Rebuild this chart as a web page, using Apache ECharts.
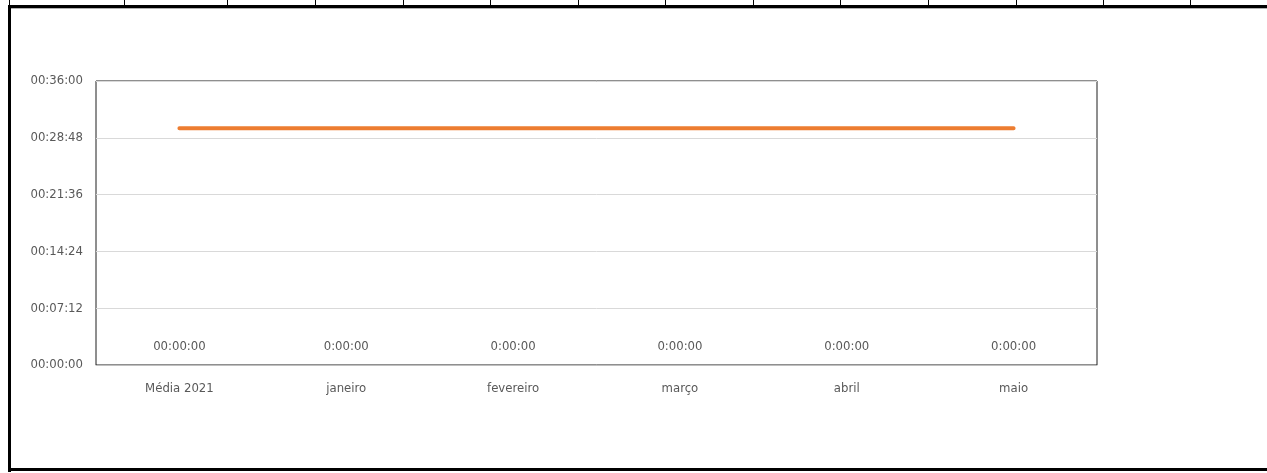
<!DOCTYPE html>
<html>
<head>
<meta charset="utf-8">
<style>
  html, body { margin: 0; padding: 0; background: #fff; }
  #chart { width: 1267px; height: 473px; }
</style>
<script src="https://cdn.jsdelivr.net/npm/echarts@6/dist/echarts.min.js"></script>
</head>
<body>
<div id="chart"></div>
<script>
// Categories on the horizontal axis
const categories = ['Média 2021', 'janeiro', 'fevereiro', 'março', 'abril', 'maio'];
// Target line, in seconds (00:30:00)
const targetSeconds = [1800, 1800, 1800, 1800, 1800, 1800];
// Monthly averages, in seconds
const averageSeconds = [0, 0, 0, 0, 0, 0];
// Text shown above each average point
const averageLabels = ['00:00:00', '0:00:00', '0:00:00', '0:00:00', '0:00:00', '0:00:00'];
// Value axis range and step, in seconds
const yMin = 0;
const yMax = 2160;
const yStep = 432;
// Column edges of the surrounding sheet cells
const cellEdges = [9, 124, 227, 315, 403, 490, 578, 665, 753, 840, 928, 1016, 1103, 1190];

const FONT = '"DejaVu Sans Condensed", "Liberation Sans Narrow", "Liberation Sans", sans-serif';
const TEXT = '#595959';

function hms(sec) {
  const h = Math.floor(sec / 3600);
  const m = Math.floor((sec % 3600) / 60);
  const s = Math.round(sec % 60);
  const p = n => String(n).padStart(2, '0');
  return p(h) + ':' + p(m) + ':' + p(s);
}

// Sheet frame around the chart object
const frame = [];
cellEdges.forEach(x => frame.push({
  type: 'rect', shape: { x: x, y: 0, width: 1, height: 6 },
  style: { fill: '#000' }, silent: true
}));
frame.push({ type: 'rect', shape: { x: 8, y: 5, width: 1259, height: 3 }, style: { fill: '#000' }, silent: true });
frame.push({ type: 'rect', shape: { x: 11, y: 8, width: 1256, height: 1 }, style: { fill: '#b0b0b0' }, silent: true });
frame.push({ type: 'rect', shape: { x: 8, y: 5, width: 3, height: 467 }, style: { fill: '#000' }, silent: true });
frame.push({ type: 'rect', shape: { x: 8, y: 468, width: 1259, height: 3 }, style: { fill: '#000' }, silent: true });

const chart = echarts.init(document.getElementById('chart'), null, { renderer: 'canvas' });
chart.setOption({
  backgroundColor: '#fff',
  animation: false,
  graphic: { elements: frame },
  grid: {
    left: 96, right: 170, top: 81, bottom: 108,
    show: true, borderColor: '#1e1e1e', borderWidth: 1, backgroundColor: 'transparent'
  },
  xAxis: {
    type: 'category',
    data: categories,
    boundaryGap: true,
    axisLine: { show: true, lineStyle: { color: '#bfbfbf', width: 1 } },
    axisTick: { show: false },
    axisLabel: { color: TEXT, fontFamily: FONT, fontSize: 13, margin: 17 },
    splitLine: { show: false }
  },
  yAxis: {
    type: 'value',
    min: yMin, max: yMax, interval: yStep,
    axisLine: { show: false },
    axisTick: { show: false },
    axisLabel: { color: TEXT, fontFamily: FONT, fontSize: 13, margin: 13, formatter: v => hms(v) },
    splitLine: { show: true, lineStyle: { color: '#d9d9d9', width: 1 } }
  },
  series: [
    {
      name: 'Meta',
      type: 'line',
      data: targetSeconds,
      symbol: 'none',
      lineStyle: { color: '#ED7D31', width: 4, cap: 'round' },
      z: 3
    },
    {
      name: 'Média',
      type: 'scatter',
      data: averageSeconds,
      symbol: 'circle',
      symbolSize: 0.1,
      itemStyle: { color: '#bfbfbf', opacity: 1 },
      label: {
        show: true, position: 'top', distance: 12, opacity: 1,
        color: TEXT, fontFamily: FONT, fontSize: 13,
        formatter: p => averageLabels[p.dataIndex]
      },
      z: 2
    }
  ]
});
</script>
</body>
</html>
